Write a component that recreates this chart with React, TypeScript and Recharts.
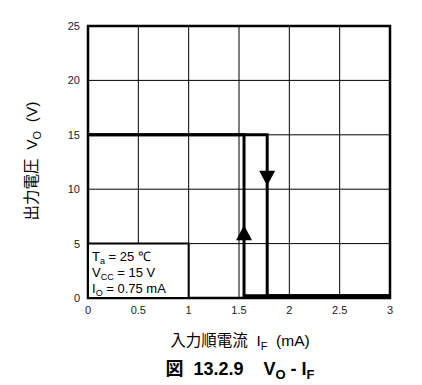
import { LineChart, Line, XAxis, YAxis, CartesianGrid, ReferenceArea, ReferenceDot } from "recharts";

// forward sweep: Vo high until IF reaches the upper threshold, then drops
const FWD_IF = [0, 1.78, 1.78, 3];
const FWD_VO = [15, 15, 0.2, 0.2];
// reverse sweep: Vo low until IF falls below the lower threshold
const REV_IF = [3, 1.55, 1.55, 0];
const REV_VO = [0.2, 0.2, 15, 15];

const X_TICKS = [0, 0.5, 1, 1.5, 2, 2.5, 3];
const Y_TICKS = [0, 5, 10, 15, 20, 25];

const fwd = FWD_IF.map((i, k) => ({ i, v: FWD_VO[k] }));
const rev = REV_IF.map((i, k) => ({ i, v: REV_VO[k] }));

const FONT = "Arial, 'Liberation Sans', sans-serif";
const JP = "Arial, 'Liberation Sans', 'Noto Sans CJK JP', sans-serif";

const Arrow = ({ cx, cy, up }: any) => {
  const h = 15;
  const w = 8;
  const pts = up
    ? `${cx},${cy - h / 2} ${cx - w},${cy + h / 2} ${cx + w},${cy + h / 2}`
    : `${cx},${cy + h / 2} ${cx - w},${cy - h / 2} ${cx + w},${cy - h / 2}`;
  return <polygon points={pts} fill="#000" />;
};

const Conditions = (props: any) => {
  const { x, y } = props.viewBox;
  const x0 = x + 4;
  return (
    <text fontFamily={FONT} fontSize={13} fill="#000">
      <tspan x={x0} y={y + 17}>T</tspan>
      <tspan fontSize={9} dy={3}>a</tspan>
      <tspan dy={-3}> = 25 ℃</tspan>
      <tspan x={x0} y={y + 33}>V</tspan>
      <tspan fontSize={9} dy={3}>CC</tspan>
      <tspan dy={-3}> = 15 V</tspan>
      <tspan x={x0} y={y + 49}>I</tspan>
      <tspan fontSize={9} dy={3}>O</tspan>
      <tspan dy={-3}> = 0.75 mA</tspan>
    </text>
  );
};

export default function App() {
  return (
    <div style={{ position: "absolute", left: 0, top: 0, width: 422, height: 385, background: "#fff" }}>
      <LineChart width={422} height={385} margin={{ top: 26, right: 32, bottom: 57, left: 28 }}>
        <CartesianGrid stroke="#000" strokeWidth={1} verticalValues={X_TICKS} horizontalValues={Y_TICKS} />
        <XAxis
          type="number"
          dataKey="i"
          domain={[0, 3]}
          ticks={X_TICKS}
          axisLine={false}
          tickLine={false}
          height={30}
          tick={{ fontSize: 11, fill: "#222", fontFamily: FONT }}
        />
        <YAxis
          type="number"
          domain={[0, 25]}
          ticks={Y_TICKS}
          axisLine={false}
          tickLine={false}
          width={60}
          tick={{ fontSize: 11, fill: "#222", fontFamily: FONT }}
        />
        <ReferenceArea x1={0} x2={3} y1={0} y2={25} fill="none" stroke="#000" strokeWidth={2.5} />
        <ReferenceArea
          x1={0}
          x2={1}
          y1={0}
          y2={5}
          fill="#fff"
          fillOpacity={1}
          stroke="#000"
          strokeWidth={2}
          label={(p: any) => <Conditions {...p} />}
        />
        <Line data={rev} dataKey="v" type="linear" stroke="#000" strokeWidth={3} dot={false} isAnimationActive={false} />
        <Line data={fwd} dataKey="v" type="linear" stroke="#000" strokeWidth={3} dot={false} isAnimationActive={false} />
        <ReferenceDot x={1.78} y={11} r={0} shape={(p: any) => <Arrow {...p} up={false} />} />
        <ReferenceDot x={1.55} y={6} r={0} shape={(p: any) => <Arrow {...p} up />} />
      </LineChart>
      <div
        style={{
          position: "absolute",
          left: 31,
          top: 161,
          transform: "translate(-50%, -50%) rotate(-90deg)",
          whiteSpace: "nowrap",
          fontFamily: JP,
          fontSize: 15.5,
          color: "#000",
        }}
      >
        出力電圧&nbsp; V<sub style={{ fontSize: 11 }}>O</sub>&nbsp; (V)
      </div>
      <div
        style={{
          position: "absolute",
          left: 240,
          top: 340,
          transform: "translate(-50%, -50%)",
          whiteSpace: "nowrap",
          fontFamily: JP,
          fontSize: 15.5,
          color: "#000",
        }}
      >
        入力順電流&nbsp; I<sub style={{ fontSize: 11 }}>F</sub>&nbsp; (mA)
      </div>
      <div
        style={{
          position: "absolute",
          left: 240,
          top: 368,
          transform: "translate(-50%, -50%)",
          whiteSpace: "nowrap",
          fontFamily: JP,
          fontSize: 18,
          fontWeight: "bold",
          color: "#000",
        }}
      >
        図&nbsp; 13.2.9&nbsp;&nbsp;&nbsp; V<sub style={{ fontSize: 13 }}>O</sub> - I<sub style={{ fontSize: 13 }}>F</sub>
      </div>
    </div>
  );
}
